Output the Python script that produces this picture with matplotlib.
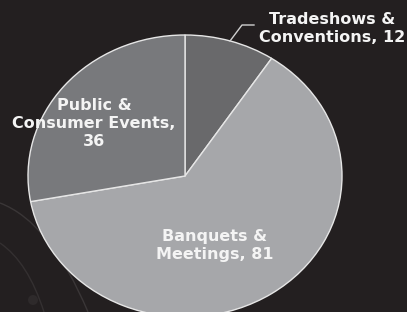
import matplotlib
matplotlib.use("Agg")
import matplotlib.pyplot as plt
from matplotlib.patches import PathPatch, Circle
from matplotlib.path import Path

categories = ["Tradeshows &\nConventions", "Banquets &\nMeetings", "Public &\nConsumer Events"]
values = [12, 81, 36]
colors = ["#69696b", "#a6a7aa", "#78797c"]

W, H = 407, 312
fig = plt.figure(figsize=(W / 100, H / 100), dpi=100)
fig.patch.set_facecolor("#231f20")

# background faint decorative curves
bg = fig.add_axes([0, 0, 1, 1], zorder=0)
bg.set_xlim(0, W)
bg.set_ylim(H, 0)
bg.axis("off")
for (p0, p1, p2), c in [(((0, 203), (50, 222), (88, 312)), "#3a3637"),
                        (((0, 243), (28, 262), (44, 312)), "#343031")]:
    bg.add_patch(PathPatch(Path([p0, p1, p2], [Path.MOVETO, Path.CURVE3, Path.CURVE3]),
                           fill=False, edgecolor=c, lw=1.0))
bg.add_patch(Circle((33, 300), 5, color="#2e2a2b", lw=0))

cx, cy, rx, ry = 185, 176, 157, 141
ax = fig.add_axes([(cx - rx) / W, (H - cy - ry) / H, 2 * rx / W, 2 * ry / H], zorder=1)
wedges, _ = ax.pie(values, colors=colors, startangle=90, counterclock=False, radius=1,
                   wedgeprops=dict(edgecolor="#e6e6e6", linewidth=1.0))
ax.set_xlim(-1, 1)
ax.set_ylim(-1, 1)
ax.set_aspect("auto")
ax.axis("off")

top = fig.add_axes([0, 0, 1, 1], zorder=2)
top.set_xlim(0, W)
top.set_ylim(H, 0)
top.axis("off")
top.patch.set_alpha(0)

fs = 11.5
kw = dict(color="#f4f4f4", fontweight="bold", fontsize=fs, ha="center", va="center",
          linespacing=1.25, family="DejaVu Sans")
labels = [f"{c}, {v}" for c, v in zip(categories, values)]
top.text(332, 28, labels[0], **kw)
top.text(215, 246, labels[1], **kw)
top.text(94, 124, "Public &\nConsumer Events,\n36", **kw)

# leader line
top.plot([230, 242, 254], [41, 25, 25], color="#d0d0d0", lw=1.0)

fig.savefig("out.png", dpi=100, facecolor=fig.get_facecolor())
